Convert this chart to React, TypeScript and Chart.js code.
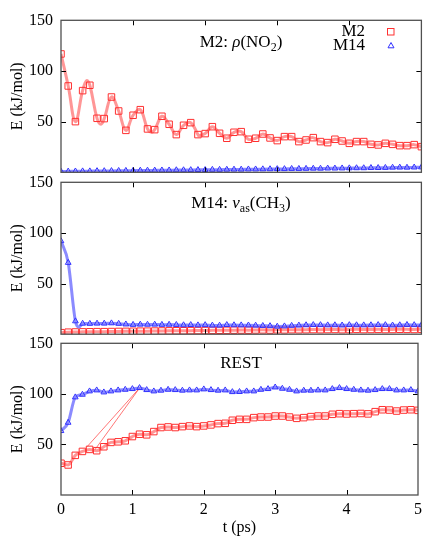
import React, { useEffect, useRef } from 'react';
import { Chart, registerables } from 'chart.js';

Chart.register(...registerables);

// ---------- data ----------
const times = [
  0, 0.1, 0.2, 0.3, 0.4, 0.5, 0.6, 0.7, 0.8, 0.9,
  1, 1.1, 1.2, 1.3, 1.4, 1.5, 1.6, 1.7, 1.8, 1.9,
  2, 2.1, 2.2, 2.3, 2.4, 2.5, 2.6, 2.7, 2.8, 2.9,
  3, 3.1, 3.2, 3.3, 3.4, 3.5, 3.6, 3.7, 3.8, 3.9,
  4, 4.1, 4.2, 4.3, 4.4, 4.5, 4.6, 4.7, 4.8, 4.9,
  5,
];

const seriesNames = ['M2', 'M14'];

// Panel 1: M2: rho(NO2)
const rhoM2 = [
  116.8, 85.2, 50, 80.6, 85.9, 53.3, 53, 74.3, 60.5, 41.4,
  56.3, 61.8, 42.8, 42.1, 55.3, 47.4, 37.2, 46.4, 49, 37.2,
  38.2, 45, 38.5, 33.6, 39.5, 40.1, 32.6, 33.6, 37.8, 33.9,
  31.3, 35.2, 35.2, 30.3, 31.9, 34.2, 30.3, 29.3, 32.6, 30.9,
  28.6, 30.3, 30.3, 27.6, 27, 28.6, 27.6, 26.3, 26.3, 27.3,
  25.3,
];
const rhoM14 = [
  0.8, 0.9, 1.0, 1.1, 1.1, 1.3, 1.3, 1.4, 1.5, 1.6,
  1.6, 1.8, 1.8, 1.9, 2.0, 2.0, 2.2, 2.2, 2.3, 2.4,
  2.4, 2.6, 2.6, 2.7, 2.8, 2.8, 3.0, 3.0, 3.1, 3.2,
  3.3, 3.3, 3.5, 3.5, 3.6, 3.7, 3.7, 3.9, 3.9, 4.0,
  4.1, 4.2, 4.2, 4.4, 4.4, 4.5, 4.7, 4.8, 4.7, 4.9,
  5.0,
];
// extra turning points of the smooth M2 curve (t, E)
const rhoM2CurveT = [0.355, 0.555, 1.255, 1.915];
const rhoM2CurveE = [90.5, 47.5, 39.5, 36];

// Panel 2: M14: nu_as(CH3)
const nuM2 = [
  1.5, 2.0, 2.2, 2.3, 2.4, 2.5, 2.5, 2.6, 2.7, 2.8,
  2.9, 3.0, 3.0, 3.1, 3.2, 3.3, 3.4, 3.4, 3.5, 3.6,
  3.6, 3.8, 3.9, 3.8, 4.0, 4.1, 4.0, 4.2, 4.3, 4.1,
  4.4, 4.3, 4.5, 4.4, 4.5, 4.6, 4.5, 4.6, 4.7, 4.5,
  4.6, 4.8, 4.6, 4.7, 4.8, 4.6, 4.7, 4.9, 4.8, 4.7,
  4.9,
];
const nuM14 = [
  92, 70.6, 12.9, 10.5, 10.4, 10.6, 10.6, 10.9, 10.4, 9.8,
  9.4, 9.6, 9.5, 9.6, 9.4, 9.5, 9.3, 9.0, 9.2, 8.9,
  9.1, 8.7, 8.6, 9.2, 9.0, 8.9, 8.8, 8.6, 8.3, 8.1,
  7.6, 7.9, 8.4, 8.7, 9.0, 9.2, 9.1, 8.9, 9.0, 8.8,
  9.1, 9.0, 8.9, 9.0, 9.2, 9.1, 8.8, 9.0, 9.3, 9.1,
  9.0,
];
const nuM14CurveT = [0.25];
const nuM14CurveE = [7];

// Panel 3: REST
const restM2 = [
  31.4, 29.7, 39.2, 43.1, 45.1, 43.8, 47.7, 52, 52.6, 53.6,
  57.8, 60.1, 59.5, 62.7, 66.7, 67.3, 66.7, 67.6, 68.3, 67.6,
  68.3, 69.3, 70.6, 70.9, 73.9, 74.8, 74.8, 76.5, 77.1, 77.1,
  78.1, 78.1, 77.1, 75.8, 76.5, 77.5, 78.1, 78.1, 79.8, 80.4,
  80.1, 80.4, 80.6, 80.2, 82.4, 84.3, 84, 83, 84, 84.3,
  83.7,
];
const restM14 = [
  63.4, 71.6, 96.7, 99.3, 102.6, 103.6, 101.6, 102.6, 103.6, 104.2,
  104.9, 105.9, 103.9, 102.6, 103.3, 104.2, 103.9, 103.3, 103.6, 103.6,
  104.6, 103.9, 103.3, 103.6, 101.9, 102, 102.6, 102.6, 104.2, 104.9,
  106.5, 105.2, 104.2, 102.6, 103.3, 103.3, 103.6, 103.6, 104.9, 105.9,
  104.9, 104.2, 103.6, 103.3, 103.9, 104.9, 104.9, 103.6, 103.6, 103.9,
  102.6,
];
// stray thin plotting stroke visible in the REST panel
const restStrayT = [0.365, 1.103, 0.471];
const restStrayE = [47.7, 106, 44.4];

const xTicks = [0, 1, 2, 3, 4, 5];
const yTicks = [50, 100, 150];
const innerXTicks = [1, 2, 3, 4];
const innerYTicks = [50, 100];

// ---------- styling ----------
const FONT = '"Liberation Serif", "Times New Roman", serif';
const BASE = 16;
const LABEL = 17;
const SUB = 12;
const RED_LINE = 'rgba(255,110,110,0.72)';
const RED_PT = '#ff3030';
const BLUE_LINE = 'rgba(110,110,255,0.8)';
const BLUE_PT = '#3030ff';

Chart.defaults.font.family = FONT;
Chart.defaults.font.size = BASE;
Chart.defaults.color = '#000';

type Seg = { t: string; it?: boolean; sub?: boolean };

function segFont(s: Seg) {
  return `${s.it ? 'italic ' : ''}${s.sub ? SUB : LABEL}px ${FONT}`;
}

function drawRich(ctx: CanvasRenderingContext2D, segs: Seg[], cx: number, cy: number) {
  let total = 0;
  const ws = segs.map((s) => {
    ctx.font = segFont(s);
    const w = ctx.measureText(s.t).width;
    total += w;
    return w;
  });
  let x = cx - total / 2;
  const base = cy + 6;
  ctx.fillStyle = '#000';
  ctx.textAlign = 'left';
  ctx.textBaseline = 'alphabetic';
  segs.forEach((s, i) => {
    ctx.font = segFont(s);
    ctx.fillText(s.t, x, s.sub ? base + 4 : base);
    x += ws[i];
  });
}

function pts(vals: number[]) {
  return times.map((t, i) => ({ x: t, y: vals[i] }));
}

function curve(vals: number[], extraT: number[], extraE: number[]) {
  return pts(vals)
    .concat(extraT.map((t, i) => ({ x: t, y: extraE[i] })))
    .sort((a, b) => a.x - b.x);
}

type Panel = {
  key: string;
  padTop: number;
  padBottom: number;
  showX: boolean;
  label: Seg[];
  labelDy: number;
  legend: boolean;
  m2: number[];
  m14: number[];
  m2Curve: { x: number; y: number }[];
  m14Curve: { x: number; y: number }[];
  m2Smooth: boolean;
  stray?: { x: number; y: number }[];
};

const panels: Panel[] = [
  {
    key: 'rho',
    padTop: 20.3,
    padBottom: 537 - 172.3,
    showX: false,
    label: [{ t: 'M2: ' }, { t: 'ρ', it: true }, { t: '(NO' }, { t: '2', sub: true }, { t: ')' }],
    labelDy: 20.5,
    legend: true,
    m2: rhoM2,
    m14: rhoM14,
    m2Curve: curve(rhoM2, rhoM2CurveT, rhoM2CurveE),
    m14Curve: pts(rhoM14),
    m2Smooth: true,
  },
  {
    key: 'nu',
    padTop: 182.3,
    padBottom: 537 - 334.2,
    showX: false,
    label: [
      { t: 'M14: ' },
      { t: 'ν', it: true },
      { t: 'as', sub: true },
      { t: '(CH' },
      { t: '3', sub: true },
      { t: ')' },
    ],
    labelDy: 19.7,
    legend: false,
    m2: nuM2,
    m14: nuM14,
    m2Curve: pts(nuM2),
    m14Curve: curve(nuM14, nuM14CurveT, nuM14CurveE),
    m2Smooth: false,
  },
  {
    key: 'rest',
    padTop: 343.3,
    padBottom: 0,
    showX: true,
    label: [{ t: 'REST' }],
    labelDy: 18.7,
    legend: false,
    m2: restM2,
    m14: restM14,
    m2Curve: pts(restM2),
    m14Curve: pts(restM14),
    m2Smooth: false,
    stray: restStrayT.map((t, i) => ({ x: t, y: restStrayE[i] })),
  },
];

function decorPlugin(p: Panel) {
  return {
    id: 'decor_' + p.key,
    afterDraw(chart: any) {
      const ctx: CanvasRenderingContext2D = chart.ctx;
      const a = chart.chartArea;
      const xs = chart.scales.x;
      const ys = chart.scales.y;
      ctx.save();
      // inward tick marks on all four sides
      ctx.strokeStyle = '#000';
      ctx.lineWidth = 1;
      ctx.beginPath();
      for (const v of innerXTicks) {
        const px = Math.round(xs.getPixelForValue(v)) + 0.5;
        ctx.moveTo(px, a.bottom);
        ctx.lineTo(px, a.bottom - 5);
        ctx.moveTo(px, a.top);
        ctx.lineTo(px, a.top + 5);
      }
      for (const v of innerYTicks) {
        const py = Math.round(ys.getPixelForValue(v)) + 0.5;
        ctx.moveTo(a.left, py);
        ctx.lineTo(a.left + 5, py);
        ctx.moveTo(a.right, py);
        ctx.lineTo(a.right - 5, py);
      }
      ctx.stroke();
      // frame
      ctx.strokeStyle = '#505050';
      ctx.lineWidth = 1.3;
      ctx.strokeRect(a.left, a.top, a.right - a.left, a.bottom - a.top);
      // panel label
      drawRich(ctx, p.label, 241, a.top + p.labelDy);
      // legend
      if (p.legend) {
        ctx.font = `${LABEL}px ${FONT}`;
        ctx.fillStyle = '#000';
        ctx.textAlign = 'right';
        ctx.textBaseline = 'middle';
        ctx.fillText(seriesNames[0], 365, 32);
        ctx.fillText(seriesNames[1], 365, 45.5);
        ctx.lineWidth = 1;
        ctx.strokeStyle = RED_PT;
        ctx.strokeRect(387.5, 28.5, 6.5, 6.5);
        ctx.strokeStyle = BLUE_PT;
        ctx.beginPath();
        ctx.moveTo(391, 42.5);
        ctx.lineTo(394, 47.8);
        ctx.lineTo(388, 47.8);
        ctx.closePath();
        ctx.stroke();
      }
      ctx.restore();
    },
  };
}

function buildConfig(p: Panel): any {
  const datasets: any[] = [
    {
      label: seriesNames[1],
      data: pts(p.m14),
      showLine: false,
      pointStyle: 'triangle',
      pointRadius: 3.3,
      pointBorderWidth: 1,
      pointBorderColor: BLUE_PT,
      pointBackgroundColor: 'rgba(0,0,0,0)',
      order: 0,
    },
    {
      label: seriesNames[1] + ' curve',
      data: p.m14Curve,
      borderColor: BLUE_LINE,
      borderWidth: 3,
      pointRadius: 0,
      cubicInterpolationMode: 'monotone',
      order: 1,
    },
    {
      label: seriesNames[0],
      data: pts(p.m2),
      showLine: false,
      pointStyle: 'rect',
      pointRadius: 4.6,
      pointBorderWidth: 1,
      pointBorderColor: RED_PT,
      pointBackgroundColor: 'rgba(0,0,0,0)',
      order: 2,
    },
    {
      label: seriesNames[0] + ' curve',
      data: p.m2Curve,
      borderColor: RED_LINE,
      borderWidth: 3,
      pointRadius: 0,
      ...(p.m2Smooth
        ? { cubicInterpolationMode: 'default', tension: 0.4 }
        : { cubicInterpolationMode: 'monotone' }),
      order: 3,
    },
  ];
  if (p.stray) {
    datasets.push({
      label: 'stray',
      data: p.stray,
      borderColor: 'rgba(255,40,40,0.8)',
      borderWidth: 0.8,
      pointRadius: 0,
      tension: 0,
      order: 4,
    });
  }
  return {
    type: 'line',
    data: { datasets },
    plugins: [decorPlugin(p)],
    options: {
      animation: false,
      responsive: false,
      events: [],
      layout: { padding: { top: p.padTop, bottom: p.padBottom, left: 0, right: 4.5 } },
      plugins: { legend: { display: false }, tooltip: { enabled: false } },
      scales: {
        x: {
          type: 'linear',
          min: 0,
          max: 5,
          display: p.showX,
          afterBuildTicks: (s: any) => {
            s.ticks = xTicks.map((v) => ({ value: v }));
          },
          afterFit: (s: any) => {
            if (p.showX) s.height = 42;
          },
          grid: { display: false, drawTicks: false },
          border: { display: false },
          ticks: {
            padding: 5,
            maxRotation: 0,
            autoSkip: false,
            color: '#000',
            font: { size: BASE },
            callback: (v: any) => String(v),
          },
          title: {
            display: true,
            text: 't (ps)',
            color: '#000',
            font: { size: BASE },
            padding: { top: 0, bottom: 0 },
          },
        },
        y: {
          type: 'linear',
          min: 0,
          max: 150,
          afterBuildTicks: (s: any) => {
            s.ticks = yTicks.map((v) => ({ value: v }));
          },
          afterFit: (s: any) => {
            s.width = 61;
          },
          grid: { display: false, drawTicks: false },
          border: { display: false },
          ticks: { padding: 8, color: '#000', font: { size: BASE } },
          title: {
            display: true,
            text: 'E (kJ/mol)',
            color: '#000',
            font: { size: BASE },
            padding: { top: 8, bottom: 0 },
          },
        },
      },
    },
  };
}

function PanelChart({ panel }: { panel: Panel }) {
  const ref = useRef<HTMLCanvasElement | null>(null);
  useEffect(() => {
    if (!ref.current) return;
    const chart = new Chart(ref.current, buildConfig(panel));
    return () => chart.destroy();
  }, [panel]);
  return (
    <canvas
      ref={ref}
      width={427}
      height={537}
      style={{ position: 'absolute', left: 0, top: 0, width: 427, height: 537 }}
    />
  );
}

export default function App() {
  return (
    <div
      style={{
        position: 'absolute',
        left: 0,
        top: 0,
        width: 427,
        height: 537,
        background: '#fff',
        overflow: 'hidden',
      }}
    >
      {panels.map((p) => (
        <PanelChart key={p.key} panel={p} />
      ))}
    </div>
  );
}
